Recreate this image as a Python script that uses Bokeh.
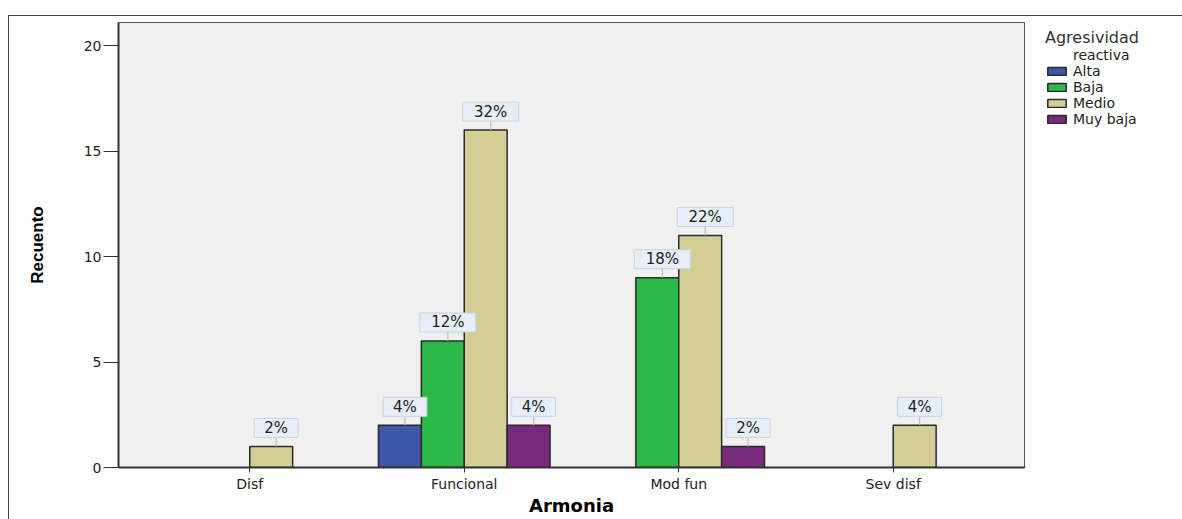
from bokeh.plotting import figure
from bokeh.layouts import row
from bokeh.models import (ColumnDataSource, FactorRange, Range1d, FixedTicker, Legend,
                          LegendItem)
from bokeh.core.properties import value
from bokeh.transform import dodge
from bokeh.embed import file_html
from bokeh.resources import INLINE

# ---- data ----
categories = ["Disf", "Funcional", "Mod fun", "Sev disf"]
series_names = ["Alta", "Baja", "Medio", "Muy baja"]
alta = [0, 2, 0, 0]
baja = [0, 6, 9, 0]
medio = [1, 16, 11, 2]
muy_baja = [0, 2, 1, 0]
pct_alta = ["", "4%", "", ""]
pct_baja = ["", "12%", "18%", ""]
pct_medio = ["2%", "32%", "22%", "4%"]
pct_muy_baja = ["", "4%", "2%", ""]
y_ticks = [0, 5, 10, 15, 20]
x_title = "Armonia"
y_title = "Recuento"
legend_title = ["Agresividad", "reactiva"]

colors = ["#3D56AA", "#2DB84A", "#D4CE96", "#7A2A7C"]
offsets = [-0.3, -0.1, 0.1, 0.3]
values = [alta, baja, medio, muy_baja]
pcts = [pct_alta, pct_baja, pct_medio, pct_muy_baja]

FONT = "DejaVu Sans"
Y_MAX = 21.1
PAD = 0.112
FRAME_H = 445
FRAME_W = 906
H = 503

x_range = FactorRange(factors=categories, range_padding=PAD, range_padding_units="absolute")
p = figure(x_range=x_range, y_range=Range1d(0, Y_MAX), width=1016, height=H,
           output_backend="svg", toolbar_location=None,
           min_border_left=109, min_border_right=1, min_border_top=6, min_border_bottom=52)

p.background_fill_color = "#F0F0F0"
p.border_fill_color = "white"
p.outline_line_color = "#555555"
p.outline_line_width = 1
p.xgrid.visible = False
p.ygrid.visible = False

px_y = FRAME_H / Y_MAX
px_x = FRAME_W / (len(categories) + 2 * PAD)
gap = 9 / px_y
box_h = 19
box_c = (9 + box_h / 2) / px_y
shift = 5 / px_x

sources = []
for name, vals, pc, col, off in zip(series_names, values, pcts, colors, offsets):
    idx = [i for i, v in enumerate(vals) if v > 0]
    cats = [categories[i] for i in idx]
    vv = [vals[i] for i in idx]
    tt = [pc[i] for i in idx]
    src = ColumnDataSource(dict(cat=cats, v=vv, v1=[v + gap for v in vv],
                                vc=[v + box_c for v in vv], t=tt,
                                w=[20 + 12 * len(t) for t in tt]))
    sources.append((src, off))
    p.vbar(x=dodge("cat", off, range=x_range), top="v", width=0.2, source=src,
           fill_color=col, line_color="#2A2A2A", line_width=1.5)

for src, off in sources:
    xs = dodge("cat", off + shift, range=x_range)
    p.segment(x0=xs, y0="v", x1=xs, y1="v1", source=src,
              line_color="#BDBDBD", line_width=1.2)
    p.rect(x=xs, y="vc", width="w", height=box_h,
           width_units="screen", height_units="screen", source=src,
           fill_color="#E6EEF8", line_color="#C6D2DF", line_width=1)
    p.text(x=xs, y="vc", text="t", source=src,
           text_align="center", text_baseline="middle", text_font=value(FONT),
           text_font_size="15px", text_color="#222222")

# axes
p.yaxis.ticker = FixedTicker(ticks=y_ticks)
p.yaxis.axis_line_width = 2
p.yaxis.axis_line_color = "#333333"
p.yaxis.major_tick_line_color = "#333333"
p.yaxis.major_tick_out = 15
p.yaxis.major_tick_in = 0
p.yaxis.minor_tick_line_color = None
p.yaxis.major_label_standoff = 2
p.yaxis.major_label_text_font = FONT
p.yaxis.major_label_text_font_size = "14px"
p.yaxis.major_label_text_color = "#222222"
p.yaxis.axis_label = y_title
p.yaxis.axis_label_text_font = "Liberation Sans"
p.yaxis.axis_label_text_font_style = "bold"
p.yaxis.axis_label_text_font_size = "17px"
p.yaxis.axis_label_text_color = "black"
p.yaxis.axis_label_standoff = 34

p.xaxis.axis_line_width = 2
p.xaxis.axis_line_color = "#333333"
p.xaxis.major_tick_line_color = "#333333"
p.xaxis.major_tick_out = 5
p.xaxis.major_tick_in = 0
p.xaxis.major_label_standoff = 3
p.xaxis.major_label_text_font = FONT
p.xaxis.major_label_text_font_size = "14px"
p.xaxis.major_label_text_color = "#222222"
p.xaxis.axis_label = x_title
p.xaxis.axis_label_text_font = FONT
p.xaxis.axis_label_text_font_style = "bold"
p.xaxis.axis_label_text_font_size = "18px"
p.xaxis.axis_label_text_color = "black"
p.xaxis.axis_label_standoff = 0

# legend panel (separate small figure to the right; its frame is row-aligned with p's)
q = figure(width=157, height=H, x_range=Range1d(0, 1), y_range=Range1d(0, 1),
           x_axis_type=None, y_axis_type=None, output_backend="svg", toolbar_location=None,
           min_border=0, outline_line_color=None)
q.xgrid.visible = False
q.ygrid.visible = False
# legend proxies: one point each, kept outside the visible range
dummy = q.vbar(x=[-1], top=[0], width=0.2, fill_alpha=0, line_alpha=0)
items = [LegendItem(label=legend_title[1], renderers=[dummy])]
for name, col in zip(series_names, colors):
    rr = q.vbar(x=[-1], top=[0], width=0.2, fill_color=col, line_color="#2A2A2A",
                line_width=1.5)
    items.append(LegendItem(label=name, renderers=[rr]))
legend = Legend(items=items, title=legend_title[0], location=(20, 340),
                title_text_font=FONT, title_text_font_size="16px",
                title_text_font_style="normal", title_text_color="#333333",
                title_standoff=-2,
                glyph_width=23, glyph_height=10, label_height=14,
                spacing=-3, padding=0, margin=0, label_standoff=5,
                border_line_color=None, background_fill_alpha=0,
                label_text_font=FONT, label_text_font_size="14px", label_text_color="#222222")
q.add_layout(legend)

layout = row(p, q, spacing=0)
layout.styles = {"margin-top": "15px", "margin-left": "8px",
                 "border-top": "1px solid #444", "border-left": "1px solid #444"}

open("out.html", "w").write(file_html(layout, INLINE))
